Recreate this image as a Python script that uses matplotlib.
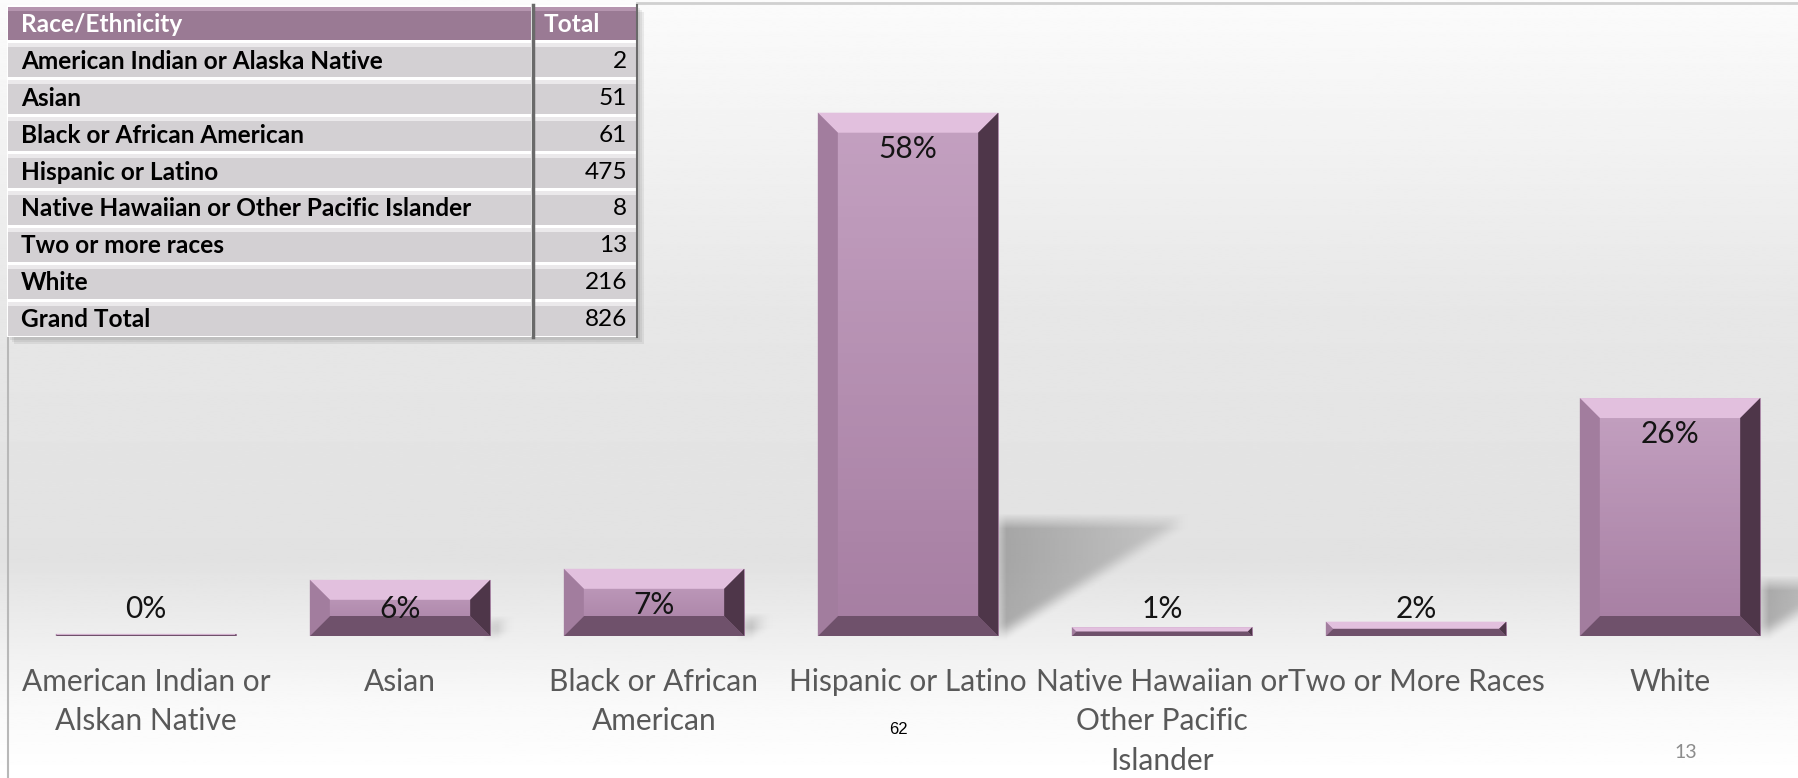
import matplotlib.pyplot as plt
import numpy as np
from matplotlib.colors import LinearSegmentedColormap
from matplotlib.patches import Rectangle, Polygon

plt.rcParams['font.family'] = ['Lato', 'DejaVu Sans']

# data
table_header = ["Race/Ethnicity", "Total"]
table_labels = ["American Indian or Alaska Native", "Asian", "Black or African American",
                "Hispanic or Latino", "Native Hawaiian or Other Pacific Islander",
                "Two or more races", "White"]
counts = [2, 51, 61, 475, 8, 13, 216]
grand_total = 826
categories = ["American Indian or\nAlskan Native", "Asian", "Black or African\nAmerican",
              "Hispanic or Latino", "Native Hawaiian or\nOther Pacific\nIslander",
              "Two or More Races", "White"]
shares = [100 * c / grand_total for c in counts]

W, H = 1798, 778
fig = plt.figure(figsize=(W / 100, H / 100), dpi=100)

# slide background gradient
bg = fig.add_axes([0, 0, 1, 1], zorder=0)
bg.axis('off')
yy = np.linspace(0, 1, 400)
g = np.interp(yy, [0.0, 0.4, 0.72, 0.9, 1.0], [0.985, 0.905, 0.885, 0.975, 1.0])
bg.imshow(np.repeat(g[:, None], 2, axis=1), cmap='gray', vmin=0, vmax=1,
          aspect='auto', extent=[0, 1, 0, 1], origin='upper')
bg.plot([637 / W, 1], [1 - 3 / H] * 2, color='#d0d0d0', lw=2)
bg.plot([8 / W] * 2, [0, 1 - 337 / H], color='#b8b8b8', lw=1.5)
bg.set_xlim(0, 1)
bg.set_ylim(0, 1)

# bar chart
ax = fig.add_axes([19 / W, 1 - 636 / H, 1778 / W, 636 / H], zorder=1)
ax.patch.set_visible(False)
x = np.arange(len(categories))
bars = ax.bar(x, shares, width=0.71, color='#b892b4', zorder=3)

px_x = 1778 / 7.0
px_y = 9.1
bx0 = 20 / px_x
by0 = 20 / px_y

face_cmap = LinearSegmentedColormap.from_list('face', ['#c4a1c1', '#a67ea2'])


def blur(a, k):
    ker = np.ones(k) / k
    a = np.apply_along_axis(lambda r: np.convolve(r, ker, mode='same'), 1, a)
    a = np.apply_along_axis(lambda c: np.convolve(c, ker, mode='same'), 0, a)
    return a


for b in bars:
    x0, w, h = b.get_x(), b.get_width(), b.get_height()
    x1 = x0 + w

    # soft cast shadow behind the bar
    hs = 0.22 * h
    L = 0.73 * h / 57.5
    if L > 0.02:
        pad_x, pad_y = 0.08, 2.0
        nx = int((L + 2 * pad_x) * px_x)
        ny = int((hs + 2 * pad_y) * px_y)
        u = np.linspace(-pad_x, L + pad_x, nx)
        v = np.linspace(hs + pad_y, -pad_y, ny)
        U, V = np.meshgrid(u, v)
        mask = ((U >= 0) & (V <= hs) & (V >= U * hs / L) & (V >= 0)).astype(float)
        mask = blur(mask, 15)
        mask *= np.clip(1 - 0.55 * U / L, 0, 1)
        rgba = np.zeros((ny, nx, 4))
        rgba[..., :3] = 0.45
        rgba[..., 3] = 0.55 * mask
        ax.imshow(rgba, extent=[x1 - pad_x, x1 + L + pad_x, -pad_y, hs + pad_y],
                  aspect='auto', zorder=2, clip_on=False)

    # gradient face
    im = ax.imshow(np.linspace(0, 1, 50)[:, None], cmap=face_cmap, aspect='auto',
                   extent=[x0, x1, 0, h], origin='upper', zorder=3.5)
    im.set_clip_path(b)

    # bevel edges
    by = min(by0, h / 2)
    bx = bx0 * by / by0
    ax.add_patch(Polygon([(x0, h), (x1, h), (x1 - bx, h - by), (x0 + bx, h - by)],
                         closed=True, fc='#e2c0de', ec='none', zorder=4))
    ax.add_patch(Polygon([(x0, 0), (x1, 0), (x1 - bx, by), (x0 + bx, by)],
                         closed=True, fc='#6f516b', ec='none', zorder=4))
    ax.add_patch(Polygon([(x0, 0), (x0, h), (x0 + bx, h - by), (x0 + bx, by)],
                         closed=True, fc='#a27d9e', ec='none', zorder=4))
    ax.add_patch(Polygon([(x1, 0), (x1, h), (x1 - bx, h - by), (x1 - bx, by)],
                         closed=True, fc='#4e3649', ec='none', zorder=4))

for i, s in enumerate(shares):
    ax.text(i, max(s - 4.0, 3.0), f"{round(s)}%", ha='center', va='center',
            fontsize=21.5, color='#141414', zorder=6)

ax.set_xticks(x, categories)
ax.tick_params(axis='x', length=0, pad=23, labelsize=21.5, labelcolor='#595959')
for lab in ax.get_xticklabels():
    lab.set_multialignment('center')
    lab.set_linespacing(1.5)
ax.set_yticks([])
for sp in ax.spines.values():
    sp.set_visible(False)
ax.set_xlim(-0.5, 6.5)
ax.set_ylim(0, 636 / px_y)

# summary table (drawn in pixel space)
tab = fig.add_axes([0, 0, 1, 1], zorder=2)
tab.patch.set_visible(False)
tab.axis('off')
tab.set_xlim(0, W)
tab.set_ylim(H, 0)

t_left, t_right, t_top, t_bot, split = 7, 637, 5, 337, 533
n_rows = len(table_labels) + 2
rh = (t_bot - t_top) / n_rows

for k in range(3):
    tab.add_patch(Rectangle((t_left + 3 + 2 * k, t_top + 3 + 2 * k), t_right - t_left,
                            t_bot - t_top, fc='#707070', ec='none', alpha=0.12))
tab.add_patch(Rectangle((t_left, t_top), t_right - t_left, t_bot - t_top,
                        fc='white', ec='none'))

rows = [table_header] + [[lab, str(c)] for lab, c in zip(table_labels, counts)] \
    + [["Grand Total", str(grand_total)]]
for k, (lab, val) in enumerate(rows):
    top = t_top + k * rh + 1.5
    hh = rh - 3
    if k == 0:
        fc, fc2, tc = '#9a7a94', '#b595af', 'white'
    else:
        fc, fc2, tc = '#d3d0d3', '#ebe9eb', 'black'
    for cx, cw in [(t_left + 1, split - t_left - 3), (split + 2, t_right - split - 3)]:
        tab.add_patch(Rectangle((cx, top), cw, hh, fc=fc, ec='none'))
        tab.add_patch(Rectangle((cx, top), cw, 4, fc=fc2, ec='none'))
    tab.text(t_left + 14, top + hh / 2 + 1, lab, ha='left', va='center',
             fontsize=17.6, fontweight='bold', color=tc)
    if k == 0:
        tab.text(split + 11, top + hh / 2 + 1, val, ha='left', va='center',
                 fontsize=17.6, fontweight='bold', color=tc)
    else:
        tab.text(t_right - 10, top + hh / 2 + 1, val, ha='right', va='center',
                 fontsize=17.6, color=tc)
tab.plot([split, split], [t_top, t_bot], color='#6a6a6a', lw=2.5)
tab.plot([t_right, t_right], [t_top, t_bot], color='#6a6a6a', lw=1.5)

# slide numbers
fig.text(898 / W, 1 - 730 / H, "62", ha='center', va='center', fontsize=12,
         family='Liberation Sans', color='black')
fig.text(1686 / W, 1 - 753 / H, "13", ha='center', va='center', fontsize=14,
         color='#8c8c8c')

fig.savefig('out.png', dpi=100)
